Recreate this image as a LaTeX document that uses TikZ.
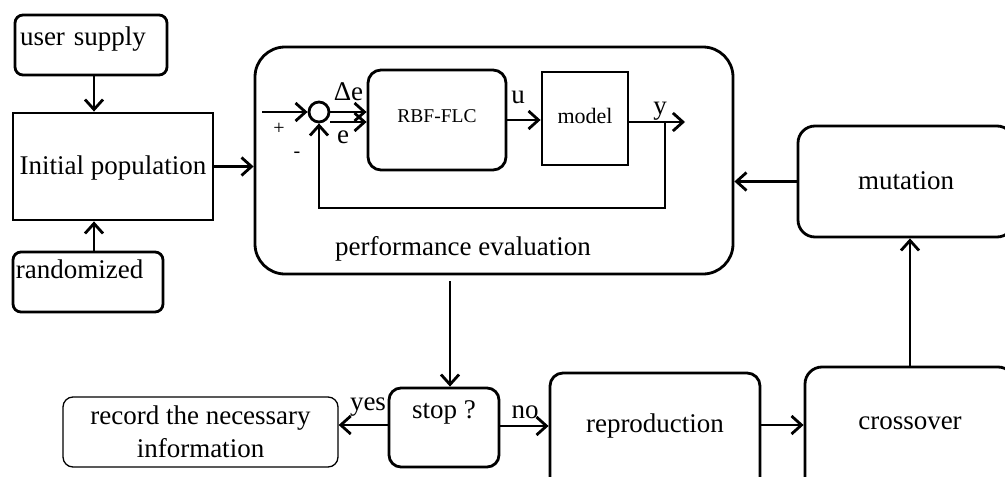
\documentclass[tikz,border=0pt]{standalone}
\usepackage{fontspec}
\setmainfont{Liberation Serif}
\usetikzlibrary{arrows.meta}
\begin{document}
\begin{tikzpicture}[x=1pt,y=-1pt,
  line width=2.8pt,
  arr/.style={-{Straight Barb[length=10pt,width=18pt]}},
  box/.style={draw, rounded corners=#1, inner sep=0pt},
  box/.default=12pt,
  big/.style={font=\fontsize{27}{33}\selectfont},
  small/.style={font=\fontsize{20}{20}\selectfont, inner sep=0pt},
]
\path[use as bounding box, clip] (0,0) rectangle (1005,477);
\fill[white] (0,0) rectangle (1005,477);

% initial population and its two sources
\node[box=8pt, big, minimum width=152pt, minimum height=60pt, text width=142pt, align=left,
      text height=18pt, text depth=18pt] (user) at (91,45) {user supply};
\node[box=8pt, big, minimum width=150pt, minimum height=60pt, text width=144pt, align=left,
      text height=18pt, text depth=26pt] (rand) at (88,282) {randomized};
\node[draw, big, inner sep=0pt, minimum width=200pt, minimum height=107pt,
      text height=20pt, text depth=5pt] (init) at (113,166.5) {Initial population};

% performance evaluation block with the closed control loop
\node[box=30pt, minimum width=478pt, minimum height=227pt] (perf) at (494,160.5) {};
\node[big, anchor=base] (perftext) at (463,255) {performance evaluation};
\node[draw, circle, minimum size=20pt, inner sep=0pt] (sum) at (319,112) {};
\node[box=13pt, minimum width=138pt, minimum height=100pt, font=\fontsize{19.5}{20}\selectfont,
      text height=13.5pt, text depth=9.5pt] (flc) at (437,120) {RBF-FLC};
\node[draw, inner sep=0pt, minimum width=86pt, minimum height=93pt, font=\fontsize{22}{22}\selectfont,
      text height=16pt, text depth=7pt] (model) at (585,118.5) {model};
\node[big, anchor=base] (lde) at (348.5,100) {Δe};
\node[big, anchor=base] (le) at (343,143) {e};
\node[big, anchor=base] (lu) at (518,103) {u};
\node[big, anchor=base] (ly) at (660,114) {y};
\node[small] (lplus) at (279,129) {+};
\node[small] (lminus) at (297,155) {-};
\coordinate (in) at (262,112);
\coordinate (yout) at (685,122);
\coordinate (ytap) at (665,122);
\coordinate (fb) at (0,208);

% genetic operators
\node[box=17pt, big, minimum width=216pt, minimum height=111pt,
      text height=20pt, text depth=5pt] (mut) at (906,181.5) {mutation};
\node[box=17pt, big, minimum width=210pt, minimum height=133pt,
      text height=20pt, text depth=29pt] (cross) at (910,433.5) {crossover};
\node[box=13pt, big, minimum width=210pt, minimum height=127pt,
      text height=20pt, text depth=29pt] (repro) at (655,436.5) {reproduction};
\node[box=12pt, big, minimum width=110pt, minimum height=79pt,
      text height=18pt, text depth=37pt] (stop) at (444,427.5) {stop ?};
\node[box=10pt, big, line width=1.3pt, minimum width=275pt, minimum height=70pt,
      align=center] (rec) at (200.5,432) {record the necessary\\information};
\node[big, anchor=base] (lyes) at (368,410) {yes};
\node[big, anchor=base] (lno) at (525,418) {no};
\coordinate (stopx) at (450,0);
\coordinate (rcy) at (0,425);

% connectors
\draw[arr] ([xshift=3pt]user.south) -- ([xshift=3pt]user.south |- init.north);
\draw[arr] ([xshift=6pt]rand.north) -- ([xshift=6pt]rand.north |- init.south);
\draw[arr] (init.east) -- (init.east -| perf.west);

\draw[arr] (in) -- (sum.west);
\draw[arr] (sum.east) -- (sum.east -| flc.west);
\draw[arr] ([yshift=-10pt]sum.east) -- ([yshift=-10pt]sum.east -| flc.west);
\draw[arr] (flc.east) -- (flc.east -| model.west);
\draw[arr] (model.east |- yout) -- (yout);
\draw[arr] (ytap) -- (ytap |- fb) -| (sum.south);

\draw[arr, shorten <=6pt] (perf.south -| stopx) -- (stop.north -| stopx);
\draw[arr] ([yshift=2.5pt]stop.west) -- ([yshift=2.5pt]stop.west -| rec.east);
\draw[arr] ([yshift=1.5pt]stop.east) -- ([yshift=1.5pt]stop.east -| repro.west);
\draw[arr] (repro.east |- rcy) -- (cross.west |- rcy);
\draw[arr] (cross.north) -- (cross.north |- mut.south);
\draw[arr] (mut.west) -- (mut.west -| perf.east);
\end{tikzpicture}
\end{document}
